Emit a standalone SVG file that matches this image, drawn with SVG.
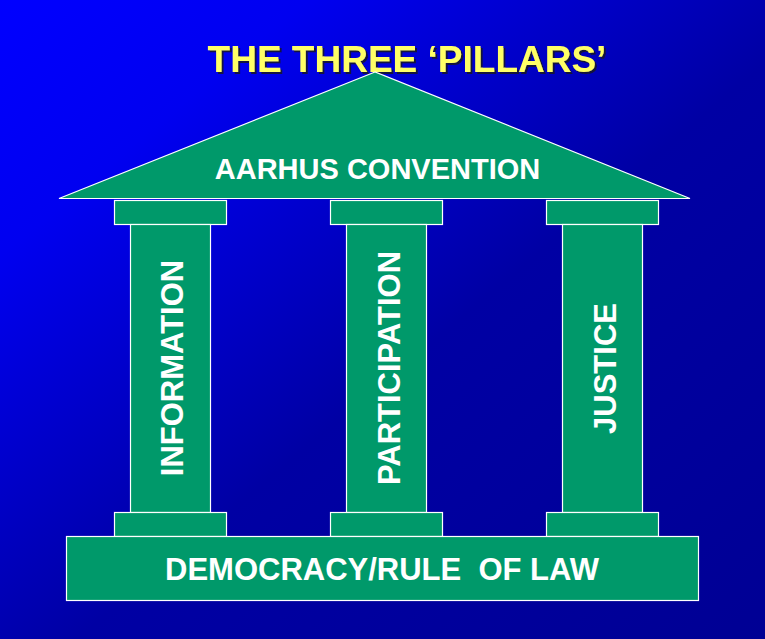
<svg xmlns="http://www.w3.org/2000/svg" width="765" height="639" viewBox="0 0 765 639">
  <defs>
    <linearGradient id="bg" x1="0" y1="0" x2="1" y2="1">
      <stop offset="0" stop-color="#0000FF"/>
      <stop offset="0.2" stop-color="#0000F0"/>
      <stop offset="0.55" stop-color="#0000A4"/>
      <stop offset="1" stop-color="#000094"/>
    </linearGradient>
    <filter id="shadow" x="-5%" y="-20%" width="110%" height="150%">
      <feDropShadow dx="2" dy="2" stdDeviation="0.6" flood-color="#151515" flood-opacity="0.8"/>
    </filter>
    <style>
      .g { fill: #00996A; stroke: #FFFFFF; stroke-width: 1.2; }
      .t { font-family: "Liberation Sans", Arial, sans-serif; font-weight: bold; fill: #FFFFFF; text-anchor: middle; }
      .title { font-family: "Liberation Sans", Arial, sans-serif; font-weight: bold; font-size: 37px; text-anchor: middle; fill: #FFFF66; }
    </style>
  </defs>
  <rect x="0" y="0" width="765" height="639" fill="url(#bg)"/>

  <g id="title">
    <text class="title" x="407" y="72" filter="url(#shadow)">THE THREE ‘PILLARS’</text>
  </g>

  <g id="roof">
    <polygon class="g" points="375,72 59,198.5 690,198.5"/>
    <text class="t" x="377.5" y="178.5" font-size="29">AARHUS CONVENTION</text>
  </g>

  <g id="pillar-information">
    <rect class="g" x="114.5" y="200.5" width="112" height="24"/>
    <rect class="g" x="130.5" y="224.5" width="80" height="288"/>
    <rect class="g" x="114.5" y="512.5" width="112" height="24"/>
    <text class="t" font-size="31" transform="translate(183,368) rotate(-90)" x="0" y="0">INFORMATION</text>
  </g>

  <g id="pillar-participation">
    <rect class="g" x="330.5" y="200.5" width="112" height="24"/>
    <rect class="g" x="346.5" y="224.5" width="80" height="288"/>
    <rect class="g" x="330.5" y="512.5" width="112" height="24"/>
    <text class="t" font-size="31" transform="translate(400,368) rotate(-90)" x="0" y="0">PARTICIPATION</text>
  </g>

  <g id="pillar-justice">
    <rect class="g" x="546.5" y="200.5" width="112" height="24"/>
    <rect class="g" x="562.5" y="224.5" width="80" height="288"/>
    <rect class="g" x="546.5" y="512.5" width="112" height="24"/>
    <text class="t" font-size="31" transform="translate(615.5,368.5) rotate(-90)" x="0" y="0">JUSTICE</text>
  </g>

  <g id="base">
    <rect class="g" x="66.5" y="536.5" width="632" height="64"/>
    <text class="t" x="382" y="580" font-size="31" xml:space="preserve">DEMOCRACY/RULE  OF LAW</text>
  </g>

  <g id="connectors"></g>
</svg>
